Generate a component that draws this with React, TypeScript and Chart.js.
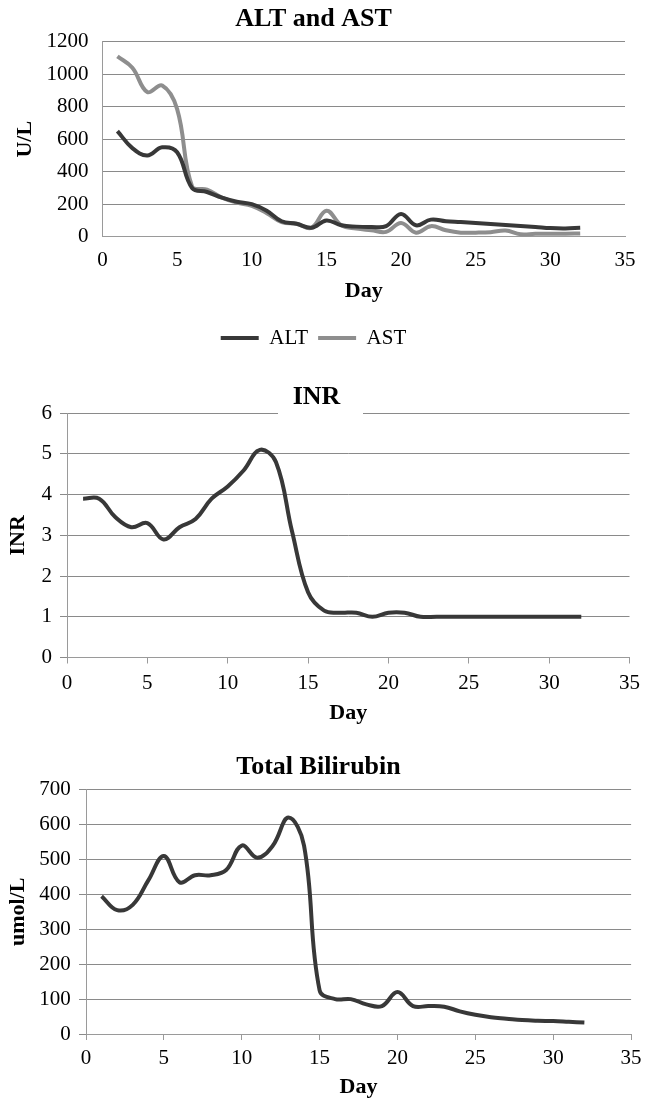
import React, { useEffect, useRef } from 'react';
import { Chart, registerables } from 'chart.js';

Chart.register(...registerables);

const FONT = "'Liberation Serif', 'Times New Roman', serif";

const days = [1, 2, 3, 4, 5, 6, 7, 8, 9, 10, 11, 12, 13, 14, 15, 16, 17, 18, 19, 20, 21, 22, 23, 24, 25, 26, 27, 28, 29, 30, 31, 32];

const altValues = [650, 545, 500, 550, 520, 300, 275, 240, 215, 200, 160, 95, 80, 55, 100, 70, 62, 60, 65, 140, 70, 105, 95, 90, 84, 78, 72, 66, 60, 53, 51, 55];
const astValues = [1110, 1040, 890, 930, 785, 310, 290, 240, 210, 190, 145, 90, 80, 55, 160, 70, 50, 40, 30, 85, 25, 65, 40, 25, 25, 28, 38, 15, 18, 18, 18, 20];
const inrValues = [3.9, 3.9, 3.45, 3.2, 3.3, 2.9, 3.2, 3.4, 3.9, 4.2, 4.6, 5.1, 4.8, 3.1, 1.6, 1.15, 1.1, 1.1, 1.0, 1.1, 1.1, 1.0, 1.0, 1.0, 1.0, 1.0, 1.0, 1.0, 1.0, 1.0, 1.0, 1.0];
const bilirubinValues = [395, 355, 370, 440, 510, 435, 455, 455, 470, 540, 505, 540, 620, 540, 125, 100, 100, 85, 80, 120, 80, 80, 78, 65, 55, 48, 44, 40, 38, 37, 35, 33];

const xAxisRange = { min: 0, max: 35, step: 5 };
const liverRange = { min: 0, max: 1200, step: 200 };
const inrRange = { min: 0, max: 6, step: 1 };
const bilirubinRange = { min: 0, max: 700, step: 100 };

const DARK = '#383838';
const LIGHT = '#8e8e8e';
const GRID = '#8a8a8a';
const BORDER = '#9a9a9a';

const toPoints = (vals: number[]) => days.map((d, i) => ({ x: d, y: vals[i] }));

function lineDataset(label: string, vals: number[], color: string) {
  return {
    label,
    data: toPoints(vals),
    borderColor: color,
    backgroundColor: color,
    borderWidth: 4,
    pointRadius: 0,
    tension: 0.4,
    fill: false,
  };
}

interface AxisOpts {
  yTitle: string;
  range: { min: number; max: number; step: number };
  yWidth: number;
  xHeight: number;
  yTitlePad: number;
  yTickPad: number;
  xTickPad: number;
  xTitlePadBottom: number;
  tickMarks: boolean;
}

function makeScales(o: AxisOpts) {
  return {
    x: {
      type: 'linear',
      min: xAxisRange.min,
      max: xAxisRange.max,
      afterFit: (s: any) => { s.height = o.xHeight; },
      ticks: {
        stepSize: xAxisRange.step,
        color: '#000',
        font: { family: FONT, size: 21 },
        padding: o.xTickPad,
        maxRotation: 0,
        callback: (v: any) => String(v),
      },
      grid: {
        display: o.tickMarks,
        drawOnChartArea: false,
        drawTicks: o.tickMarks,
        tickLength: 6,
        color: BORDER,
      },
      border: { display: true, color: BORDER, width: 1 },
      title: {
        display: true,
        text: 'Day',
        color: '#000',
        font: { family: FONT, size: 22, weight: 'bold' },
        padding: { top: 0, bottom: o.xTitlePadBottom },
      },
    },
    y: {
      min: o.range.min,
      max: o.range.max,
      afterFit: (s: any) => { s.width = o.yWidth; },
      ticks: {
        stepSize: o.range.step,
        color: '#000',
        font: { family: FONT, size: 21 },
        padding: o.yTickPad,
        callback: (v: any) => String(v),
      },
      grid: {
        color: GRID,
        lineWidth: 1,
        drawTicks: o.tickMarks,
        tickLength: 7,
      },
      border: { display: true, color: BORDER, width: 1 },
      title: {
        display: true,
        text: o.yTitle,
        color: '#000',
        font: { family: FONT, size: 22, weight: 'bold' },
        padding: { top: o.yTitlePad, bottom: 0 },
      },
    },
  };
}

function titleOpts(text: string, top: number, bottom: number) {
  return {
    display: true,
    text,
    color: '#000',
    font: { family: FONT, size: 26, weight: 'bold' },
    padding: { top, bottom },
  };
}

const liverConfig = () => ({
  type: 'line',
  data: {
    datasets: [lineDataset('ALT', altValues, DARK), lineDataset('AST', astValues, LIGHT)],
  },
  options: {
    animation: false,
    responsive: true,
    maintainAspectRatio: false,
    layout: { padding: { left: 0, right: 20, top: 0, bottom: 1.5 } },
    plugins: {
      title: titleOpts('ALT and AST', 4, 6.5),
      tooltip: { enabled: false },
      legend: {
        display: true,
        position: 'bottom',
        labels: {
          color: '#000',
          font: { family: FONT, size: 21 },
          boxWidth: 38,
          boxHeight: 4,
          padding: 10,
          generateLabels: (chart: any) =>
            chart.data.datasets.map((ds: any, i: number) => ({
              text: ds.label,
              fillStyle: ds.borderColor,
              strokeStyle: ds.borderColor,
              lineWidth: 0,
              hidden: false,
              datasetIndex: i,
              fontColor: '#000',
            })),
        },
      },
    },
    scales: makeScales({
      yTitle: 'U/L',
      range: liverRange,
      yWidth: 102.5,
      xHeight: 80.8,
      yTitlePad: 12,
      yTickPad: 14,
      xTickPad: 11.5,
      xTitlePadBottom: 13,
      tickMarks: false,
    }),
  },
});

const titleGapPlugin = {
  id: 'titleGap',
  afterDraw(chart: any, _args: any, opts: any) {
    if (!opts || !opts.enabled) return;
    const { ctx, chartArea } = chart;
    ctx.save();
    ctx.fillStyle = '#ffffff';
    ctx.fillRect(opts.x1, chartArea.top - 4, opts.x2 - opts.x1, 7);
    ctx.restore();
  },
};

const inrConfig = () => ({
  type: 'line',
  data: { datasets: [lineDataset('INR', inrValues, DARK)] },
  options: {
    animation: false,
    responsive: true,
    maintainAspectRatio: false,
    layout: { padding: { left: 0, right: 14, top: 0, bottom: 0 } },
    plugins: {
      title: titleOpts('INR', 12, 0),
      tooltip: { enabled: false },
      legend: { display: false },
      titleGap: { enabled: true, x1: 278, x2: 363 },
    },
    scales: makeScales({
      yTitle: 'INR',
      range: inrRange,
      yWidth: 67,
      xHeight: 72.5,
      yTitlePad: 5.5,
      yTickPad: 8,
      xTickPad: 7,
      xTitlePadBottom: 3.8,
      tickMarks: true,
    }),
  },
  plugins: [titleGapPlugin],
});

const bilirubinConfig = () => ({
  type: 'line',
  data: { datasets: [lineDataset('Total Bilirubin', bilirubinValues, DARK)] },
  options: {
    animation: false,
    responsive: true,
    maintainAspectRatio: false,
    layout: { padding: { left: 0, right: 10, top: 0, bottom: 0 } },
    plugins: {
      title: titleOpts('Total Bilirubin', 11.4, 7.1),
      tooltip: { enabled: false },
      legend: { display: false },
    },
    scales: makeScales({
      yTitle: 'umol/L',
      range: bilirubinRange,
      yWidth: 86,
      xHeight: 67,
      yTitlePad: 5.5,
      yTickPad: 8.3,
      xTickPad: 5.4,
      xTitlePadBottom: 0,
      tickMarks: true,
    }),
  },
});

function ChartBox({ top, height, makeConfig }: { top: number; height: number; makeConfig: () => any }) {
  const ref = useRef<HTMLCanvasElement | null>(null);
  useEffect(() => {
    if (!ref.current) return;
    const chart = new Chart(ref.current, makeConfig());
    return () => chart.destroy();
  }, [makeConfig]);
  return (
    <div style={{ position: 'absolute', left: 0, top, width: 647, height }}>
      <canvas ref={ref} />
    </div>
  );
}

export default function App() {
  return (
    <div style={{ position: 'absolute', left: 0, top: 0, width: 647, height: 1101, background: '#fff', overflow: 'hidden' }}>
      <ChartBox top={0} height={360} makeConfig={liverConfig} />
      <ChartBox top={370} height={360} makeConfig={inrConfig} />
      <ChartBox top={740} height={361} makeConfig={bilirubinConfig} />
    </div>
  );
}
